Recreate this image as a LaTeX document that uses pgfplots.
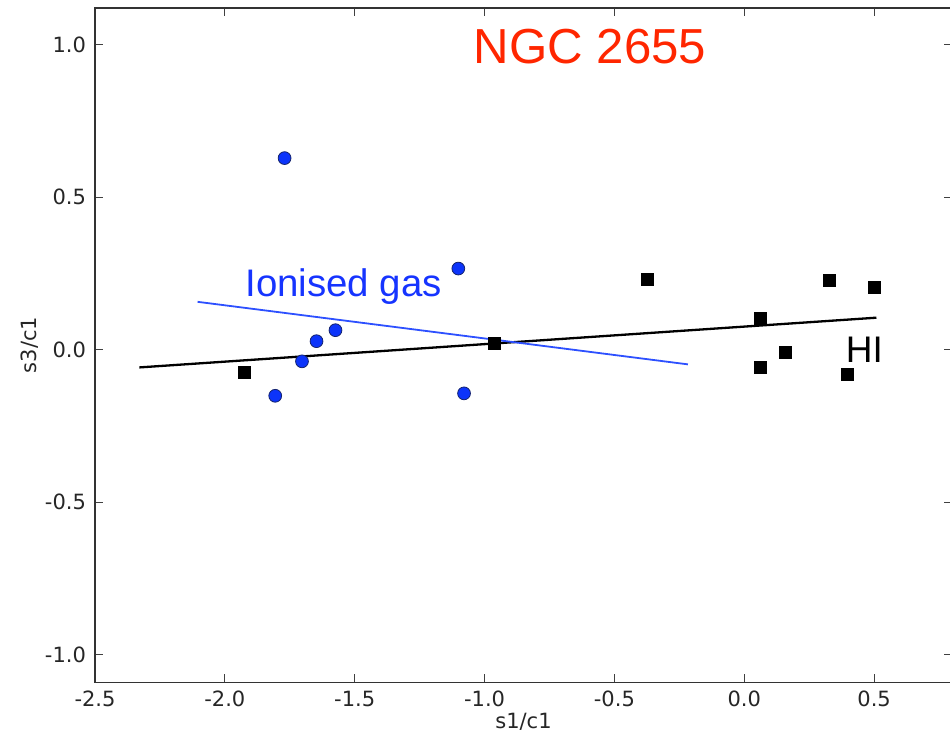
\documentclass[border=0pt]{standalone}
\usepackage{fontspec}
\setmainfont{DejaVu Sans}
\newfontfamily\arial{Liberation Sans}
\usepackage{pgfplots}
\pgfplotsset{compat=1.18}
\definecolor{ngcred}{RGB}{255,38,0}
\definecolor{iontext}{RGB}{22,52,255}
\definecolor{ionline}{RGB}{45,80,255}
\definecolor{circfill}{RGB}{12,52,250}
\definecolor{circedge}{RGB}{20,35,110}
\begin{document}
\begin{tikzpicture}
\begin{axis}[
  scale only axis,
  width=428.5pt, height=337.15pt,
  xmin=-2.5, xmax=0.8, ymin=-1.09, ymax=1.12,
  xtick={-2.5,-2,-1.5,-1,-0.5,0,0.5},
  ytick={-1,-0.5,0,0.5,1},
  tick align=inside,
  major tick length=4pt,
  tick style={black!75, line width=0.5pt},
  axis line style={black!80, line width=0.7pt},
  /pgf/number format/assume math mode=true,
  /pgf/number format/.cd, fixed, fixed zerofill, precision=1, /pgfplots/.cd,
  ticklabel style={font=\fontsize{10.5}{12}\selectfont, text=black!85},
  xticklabel style={yshift=-1pt},
  yticklabel style={xshift=-1pt},
  xlabel={s1/c1}, ylabel={s3/c1},
  label style={font=\fontsize{10.5}{12}\selectfont, text=black!85},
  xlabel style={at={(axis description cs:0.5,-0.059)}, anchor=center},
  ylabel style={at={(axis description cs:-0.076,0.5)}, anchor=center},
  clip=false,
]
% fit lines
\addplot[black, line width=1.15pt] coordinates {(-2.329,-0.058) (0.509,0.105)};
\addplot[ionline, line width=0.9pt] coordinates {(-2.105,0.157) (-0.217,-0.048)};
% HI squares
\addplot[only marks, mark=square*, mark size=3pt, mark options={fill=black, draw=black, line width=0.2pt}] coordinates {
(-1.925,-0.073) (-0.964,0.022) (-0.374,0.232) (0.063,0.102) (0.327,0.228)
(0.500,0.205) (0.158,-0.009) (0.063,-0.058) (0.395,-0.081)
};
% Ionised gas circles
\addplot[only marks, mark=*, mark size=3.2pt, mark options={fill=circfill, draw=circedge, line width=0.4pt}] coordinates {
(-1.770,0.628) (-1.101,0.266) (-1.574,0.064) (-1.647,0.028)
(-1.703,-0.038) (-1.806,-0.151) (-1.079,-0.143)
};
\node[anchor=base, font=\arial\fontsize{24.6}{28}\selectfont, text=ngcred] at (axis cs:-0.594,0.937) {NGC 2655};
\node[anchor=base, font=\arial\fontsize{19.2}{22}\selectfont, text=iontext] at (axis cs:-1.543,0.173) {Ionised gas};
\node[anchor=base, font=\arial\fontsize{18.5}{22}\selectfont, text=black] at (axis cs:0.463,-0.043) {HI};
\end{axis}
\pgfresetboundingbox
\useasboundingbox ([xshift=-47.5pt,yshift=-27.35pt]current axis.south west) rectangle ([xshift=-1pt,yshift=4pt]current axis.north east);
\end{tikzpicture}
\end{document}
